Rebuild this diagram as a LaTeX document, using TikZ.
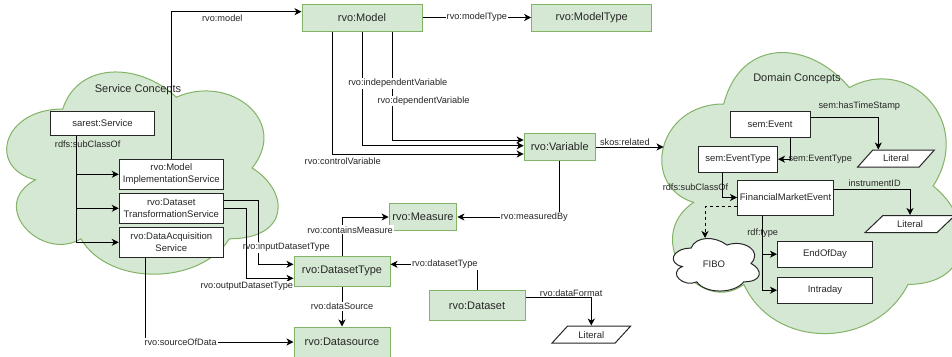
\documentclass[tikz,border=0pt]{standalone}
\usepackage{fontspec}
\setmainfont{Liberation Sans}
\usetikzlibrary{
	arrows.meta,
	positioning,
	shapes.geometric,
}
\definecolor{conceptfill}{HTML}{D5E8D4}
\definecolor{conceptline}{HTML}{82B366}
\tikzset{rvoclass/.style={
		% The shape:
		rectangle,
		% The size:
		minimum width=96pt,minimum height=30pt,
		% The border and the filling:
		line width=1pt,draw=conceptline,fill=conceptfill,
		% The text:
		font=\fontsize{11}{13}\selectfont,text=black!85,
}}
\tikzset{plainclass/.style={
		% The shape:
		rectangle,
		% The size:
		minimum width=104pt,minimum height=30pt,
		% The rest
		line width=1pt,draw=black!85,fill=white,
		align=center,inner sep=1pt,
		font=\fontsize{9.5}{12}\selectfont,text=black!85,
}}
\tikzset{literal/.style={
		% a parallelogram
		trapezium,trapezium left angle=52,trapezium right angle=128,
		trapezium stretches=true,
		minimum width=79pt,minimum height=17pt,
		line width=1pt,draw=black!85,fill=white,
		font=\fontsize{9.5}{11}\selectfont,text=black!85,
}}
\tikzset{rel/.style={font=\fontsize{9.2}{11}\selectfont,text=black!85,inner sep=1pt,fill=white}}
\tikzset{relc/.style={rel,fill=none}}
\tikzset{cloudtitle/.style={font=\fontsize{11}{13}\selectfont,text=black!85}}
\tikzset{pics/conceptcloud/.style={code={
		% the outline of a cloud in a unit box
		\path[pic actions] (0.25,0.25) .. controls (0.05,0.25) and (0,0.5) .. (0.16,0.55)
		.. controls (0,0.66) and (0.18,0.9) .. (0.31,0.8)
		.. controls (0.4,1) and (0.7,1) .. (0.8,0.8)
		.. controls (1,0.8) and (1,0.6) .. (0.875,0.5)
		.. controls (1,0.3) and (0.8,0.1) .. (0.625,0.2)
		.. controls (0.5,0.05) and (0.3,0.05) .. (0.25,0.25) -- cycle;
}}}

\begin{document}
\begin{tikzpicture}[x=1pt,y=-1pt,line width=1pt,
	>={Stealth[length=7pt,width=7pt,inset=2pt]}]
	\useasboundingbox (0,0) rectangle (952,356);
	% the two concept clouds
	\pic[fill=conceptfill,draw=conceptline,xscale=303,yscale=236] at (-13,50) {conceptcloud};
	\pic[fill=conceptfill,draw=conceptline,xscale=335,yscale=328] at (640,22) {conceptcloud};
	\pic[fill=white,draw=black!85,xscale=96,yscale=61.3] at (667,232.8) {conceptcloud};
	\node[cloudtitle] (svctitle) at (138,90) {Service Concepts};
	\node[cloudtitle] (domtitle) at (797,79) {Domain Concepts};
	\coordinate (domedge) at (663.5,147);

	% service concepts
	\node[plainclass,minimum height=24pt] (service) at (102.5,123) {sarest:Service};
	\node[plainclass] (mis) at (171.3,174.3) {rvo:Model\\ImplementationService};
	\node[plainclass,below=3pt of mis] (dts) {rvo:Dataset\\TransformationService};
	\node[plainclass,below=3pt of dts] (das) {rvo:DataAcquisition\\Service};

	% rvo classes
	\node[rvoclass,minimum width=120pt,minimum height=27pt] (model) at (362,17.5) {rvo:Model};
	\node[rvoclass,minimum width=120pt,minimum height=27pt] (mtype) at (591.7,17.5) {rvo:ModelType};
	\node[rvoclass,minimum width=71pt,minimum height=27pt] (variable) at (559.7,147) {rvo:Variable};
	\node[rvoclass,minimum width=67pt,minimum height=27pt] (measure) at (423,217) {rvo:Measure};
	\node[rvoclass] (dstype) at (342,271) {rvo:DatasetType};
	\node[rvoclass] (dataset) at (477,305.7) {rvo:Dataset};
	\node[rvoclass,below=40pt of dstype] (dsource) {rvo:Datasource};
	\node[literal] (fmtlit) at (591.3,334.6) {Literal};

	% domain concepts
	\node[plainclass,minimum width=80pt,minimum height=26pt] (event) at (770,124.2) {sem:Event};
	\node[plainclass,minimum width=79pt,minimum height=26pt] (etype) at (738,159.2) {sem:EventType};
	\node[literal,minimum width=77pt] (stamplit) at (896,158.5) {Literal};
	\node[plainclass,minimum width=96pt,minimum height=35pt] (fme) at (785.5,197.5) {FinancialMarketEvent};
	\node[literal,minimum width=90pt] (idlit) at (910,224) {Literal};
	\node[plainclass,minimum width=95pt,minimum height=26pt] (eod) at (825,254.2) {EndOfDay};
	\node[plainclass,minimum width=95pt,minimum height=26pt,below=9pt of eod] (intraday) {Intraday};
	\node[cloudtitle,font=\fontsize{9.5}{11}\selectfont,minimum width=86pt,minimum height=52pt] (fibo) at (714,264.5) {FIBO};

	% service edges
	\draw[->] ([xshift=-25.8pt]service.south) |- (mis.west);
	\draw[->] ([xshift=-25.8pt]service.south) |- (dts.west);
	\draw[->] ([xshift=-25.8pt]service.south) |- node[relc,pos=0.042,xshift=11pt] {rdfs:subClassOf} (das.west);
	\draw[->] (mis.north) |- node[rel,below,pos=0.696,yshift=-2pt] {rvo:model} ([yshift=5.8pt]model.west);
	\draw[->] ([yshift=7.5pt]dts.east) -- ++(35,0) |- node[rel,pos=0.368,xshift=27.5pt] {rvo:inputDatasetType} ([yshift=6.7pt]dstype.west);
	\draw[->] (dts.east) -- ++(23,0) |- node[rel,below,pos=0.5,yshift=-2.5pt] {rvo:outputDatasetType} ([yshift=-7.3pt]dstype.west);
	\draw[->] ([xshift=-25.6pt]das.south) |- node[rel,pos=0.618] {rvo:sourceOfData} (dsource.west);

	% model edges
	\draw[->] (model) -- node[rel] {rvo:modelType} (mtype);
	\draw[->] ([xshift=-30pt]model.south) |- node[rel,below,pos=0.528,yshift=-2pt] {rvo:controlVariable} ([yshift=-7pt]variable.west);
	\draw[->] ([xshift=30pt]model.south) |- node[rel,pos=0.321,xshift=31.5pt] {rvo:dependentVariable} ([yshift=7pt]variable.west);
	\draw[->] (model.south) |- node[rel,pos=0.228,xshift=35.8pt] {rvo:independentVariable} ([yshift=1.3pt]variable.west);
	\draw[->] (variable.east) -- node[relc,above,pos=0.43] {skos:related} (variable.east -| domedge);
	\draw[->] (variable.south) |- node[rel,pos=0.624] {rvo:measuredBy} (measure.east);
	\draw[->] (dstype.north) |- node[rel,pos=0.333,xshift=8pt] {rvo:containsMeasure} (measure.west);
	\draw[->] (dstype) -- node[rel] {rvo:dataSource} (dsource);
	\draw[->] (dataset.north) |- node[rel,pos=0.686] {rvo:datasetType} ([yshift=6.7pt]dstype.east);
	\draw[->] ([yshift=8pt]dataset.east) -| node[rel,above,pos=0.347] {rvo:dataFormat} (fmtlit.north);

	% domain edges
	\draw[->] ([yshift=6.5pt]event.east) -| node[relc,above,pos=0.36,yshift=6pt] {sem:hasTimeStamp} ([xshift=-17.7pt]stamplit.north);
	\draw[->] ([xshift=20pt]event.south) |- node[relc,pos=0.5,anchor=west,xshift=-3pt] {sem:EventType} (etype.east);
	\draw[->] ([xshift=-15.3pt]etype.south) |- node[relc,pos=0.295,anchor=east,xshift=7pt] {rdfs:subClassOf} (fme.west);
	\draw[->] ([yshift=8.2pt]fme.east) -| node[relc,above,pos=0.267,yshift=1.5pt] {instrumentID} (idlit.north);
	\draw[->,dash pattern=on 3pt off 3pt] ([yshift=-9.2pt]fme.west) -| ([xshift=-9pt]fibo.north);
	\draw[->] ([xshift=-22.8pt]fme.south) |- (eod.west);
	\draw[->] ([xshift=-22.8pt]fme.south) |- node[relc,pos=0.12] {rdf:type} (intraday.west);
\end{tikzpicture}
\end{document}
